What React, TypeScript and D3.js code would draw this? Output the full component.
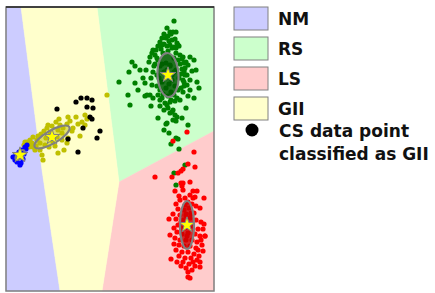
import React from "react";
import * as d3 from "d3";

// class regions (decision areas), in plot units
const regionNM: [number, number][] = [[0, 284], [15, 284], [36, 121], [54, 0], [0, 0]];
const regionGII: [number, number][] = [[15, 284], [91, 284], [113, 109], [96, 0], [54, 0], [36, 121]];
const regionRS: [number, number][] = [[91, 284], [208, 284], [208, 160], [113, 109]];
const regionLS: [number, number][] = [[113, 109], [208, 160], [208, 0], [96, 0]];

// data points per class
const pointsRS: [number, number][] = [
  [168, 270], [161, 263], [164, 259], [167, 259], [170, 259], [165, 257], [158, 257], [162, 255],
  [156, 253], [160, 253], [163, 250], [166, 251], [169, 252], [154, 249], [158, 247], [152, 245],
  [161, 245], [171, 248], [173, 245], [170, 243], [147, 241], [146, 238], [149, 236], [144, 234],
  [150, 241], [155, 242], [174, 236], [177, 234], [170, 238], [180, 229], [184, 234], [188, 231],
  [182, 226], [126, 229], [129, 225], [123, 219], [113, 209], [129, 208], [124, 186], [139, 208],
  [146, 206], [141, 196], [144, 196], [139, 195], [147, 193], [145, 185], [186, 220], [181, 216],
  [184, 211], [179, 216], [191, 209], [188, 193], [182, 195], [184, 201], [154, 191], [159, 188],
  [161, 186], [164, 189], [169, 190], [174, 191], [177, 199], [162, 183], [166, 179], [164, 178],
  [167, 181], [169, 176], [171, 174], [167, 171], [161, 168], [182, 166], [163, 158], [170, 170],
  [160, 167], [170, 153], [172, 152], [165, 147], [173, 142], [179, 126], [168, 118], [170, 106],
  [152, 231], [149, 227], [151, 233], [154, 225], [156, 227], [160, 228], [164, 226], [168, 233],
  [172, 231], [174, 227], [176, 222], [178, 219], [151, 216], [153, 213], [156, 209], [158, 219],
  [161, 221], [164, 225], [166, 216], [168, 219], [170, 221], [173, 213], [175, 217], [178, 209],
  [151, 205], [154, 201], [157, 197], [160, 203], [163, 207], [166, 211], [169, 205], [172, 201],
  [175, 203], [152, 196], [156, 193], [162, 195], [165, 199], [168, 196], [171, 193], [154, 185],
  [158, 181], [165, 191], [148, 225], [147, 219], [145, 213], [178, 221], [177, 211], [178, 205],
  [179, 223], [143, 229], [140, 221], [181, 206], [156, 246], [164, 246], [168, 244], [162, 240],
  [172, 246], [166, 243], [157, 238], [176, 232], [178, 228], [134, 221], [137, 213], [132, 201],
  [122, 196], [190, 221], [193, 203], [180, 183], [176, 173], [152, 173], [158, 161]
];
const pointsLS: [number, number][] = [
  [181, 159], [167, 150], [188, 139], [182, 127], [189, 124], [177, 122], [175, 120], [172, 118],
  [149, 114], [166, 114], [175, 108], [177, 108], [176, 105], [184, 109], [169, 100], [177, 101],
  [187, 100], [191, 100], [184, 96], [189, 94], [198, 93], [174, 91], [179, 93], [182, 89],
  [170, 87], [186, 87], [190, 85], [194, 83], [172, 82], [178, 81], [183, 83], [167, 77],
  [174, 76], [180, 75], [185, 77], [188, 78], [170, 72], [163, 72], [177, 71], [184, 73],
  [190, 71], [195, 69], [172, 66], [168, 63], [179, 63], [186, 65], [192, 62], [197, 62],
  [171, 59], [176, 57], [182, 58], [189, 57], [194, 55], [199, 55], [169, 53], [174, 51],
  [180, 51], [186, 51], [191, 49], [173, 46], [178, 45], [184, 45], [190, 43], [196, 46],
  [170, 41], [176, 39], [182, 39], [188, 37], [197, 40], [173, 35], [179, 33], [185, 33],
  [191, 31], [165, 32], [177, 29], [183, 27], [189, 25], [194, 24], [180, 23], [186, 21],
  [182, 19], [184, 13], [182, 14], [175, 25], [171, 29], [187, 29], [193, 35], [168, 47],
  [195, 51], [180, 77], [185, 78], [175, 69], [181, 55], [176, 63], [192, 41], [179, 86],
  [173, 95], [187, 93], [164, 56], [198, 67], [194, 29], [199, 55]
];
const pointsGII: [number, number][] = [
  [101, 196], [53, 172], [62, 174], [70, 174], [79, 176], [81, 172], [79, 166], [74, 155],
  [67, 163], [61, 167], [57, 163], [42, 166], [41, 163], [46, 165], [50, 169], [54, 166],
  [64, 170], [72, 167], [76, 169], [38, 160], [35, 157], [27, 154], [31, 151], [26, 148],
  [34, 148], [61, 148], [62, 153], [56, 158], [52, 161], [66, 160], [24, 151], [21, 149],
  [19, 149], [24, 147], [27, 144], [30, 145], [34, 141], [36, 136], [37, 131], [52, 138],
  [47, 149], [43, 144], [39, 146], [49, 145], [56, 151], [44, 159], [40, 153], [32, 155],
  [23, 144], [29, 141], [18, 146], [58, 141], [51, 154]
];
const pointsNM: [number, number][] = [
  [19, 144], [21, 146], [10, 136], [12, 133], [15, 128], [17, 132], [9, 131], [16, 141],
  [13, 139], [18, 137], [11, 129], [14, 126], [7, 134], [20, 142], [15, 135]
];
// CS data points classified as GII
const pointsCS: [number, number][] = [
  [75, 193], [81, 193], [86, 191], [70, 189], [51, 182], [81, 184], [87, 183], [84, 174],
  [86, 172], [77, 163], [94, 160], [91, 153], [62, 152], [72, 139]
];

// class centres and covariance ellipses: [cx, cy, rx, ry, angle]
const classes = ["NM", "RS", "LS", "GII"];
const centres: [number, number][] = [[14, 136], [162, 216], [181, 66], [46, 154]];
const ellipses: [number, number, number, number, number][] = [
  [14, 136, 6, 3, -50], [162, 216, 10.5, 22, -3], [181, 66, 7, 24, 0], [46, 154, 20, 6.5, -30]
];

const regionColors = ["#ccccff", "#ccffcc", "#ffcccc", "#ffffcc"];
const pointColors = ["#0000ff", "#008000", "#ff0000", "#bfbf00"];
const ellipseFill = ["#0000cc", "#005a00", "#cc0000", "#bfbf00"];
const ellipseAlpha = [0.6, 0.85, 0.8, 0.5];

const W = 435;
const H = 293;
const frame = { left: 6, top: 7, right: 214, bottom: 291 };

export default function App() {
  const x = d3.scaleLinear().domain([0, 208]).range([frame.left, frame.right]);
  const y = d3.scaleLinear().domain([0, 284]).range([frame.bottom, frame.top]);
  const poly = (pts: [number, number][]) => d3.line()(pts.map((p) => [x(p[0]), y(p[1])] as [number, number])) + "Z";
  const star = d3.symbol(d3.symbolStar, 75)();
  const regions = [regionNM, regionRS, regionLS, regionGII];
  const pointSets = [pointsRS, pointsLS, pointsGII, pointsNM];
  const setColors = [pointColors[1], pointColors[2], pointColors[3], pointColors[0]];
  const font = "'DejaVu Sans', sans-serif";

  return (
    <svg width={W} height={H} style={{ position: "absolute", left: 0, top: 0 }}>
      <rect width={W} height={H} fill="#fff" />
      {regions.map((r, i) => (
        <path key={"r" + i} d={poly(r)} fill={regionColors[i]} stroke={regionColors[i]} strokeWidth={0.5} />
      ))}
      {pointSets.map((set, i) =>
        set.map((p, j) => (
          <circle key={"p" + i + "-" + j} cx={x(p[0])} cy={y(p[1])} r={2.6} fill={setColors[i]} />
        ))
      )}
      {pointsCS.map((p, j) => (
        <circle key={"cs" + j} cx={x(p[0])} cy={y(p[1])} r={2.6} fill="#000" />
      ))}
      {ellipses.map((e, i) => (
        <ellipse
          key={"e" + i}
          cx={0}
          cy={0}
          rx={x(e[2]) - x(0)}
          ry={y(0) - y(e[3])}
          transform={`translate(${x(e[0])},${y(e[1])}) rotate(${e[4]})`}
          fill={ellipseFill[i]}
          fillOpacity={ellipseAlpha[i]}
          stroke="#808080"
          strokeWidth={2.2}
        />
      ))}
      {centres.map((c, i) => (
        <path
          key={"s" + i}
          d={star}
          transform={`translate(${x(c[0])},${y(c[1])})`}
          fill="#ffff00"
          stroke="#808080"
          strokeWidth={1}
        />
      ))}
      <rect
        x={frame.left}
        y={frame.top}
        width={frame.right - frame.left}
        height={frame.bottom - frame.top}
        fill="none"
        stroke="#7f7f7f"
        strokeWidth={1.5}
      />
      <line x1={frame.left} x2={frame.right} y1={frame.top} y2={frame.top} stroke="#222" strokeWidth={1.5} />
      {classes.map((c, i) => (
        <g key={"l" + i} transform={`translate(234,${7 + i * 30})`}>
          <rect width={34} height={23} fill={regionColors[i]} stroke="#808080" strokeWidth={1} />
          <text x={44} y={18} fontFamily={font} fontWeight="bold" fontSize={17} fill="#111">
            {c}
          </text>
        </g>
      ))}
      <circle cx={252} cy={130} r={6.5} fill="#000" />
      <text x={279} y={137} fontFamily={font} fontWeight="bold" fontSize={17} fill="#111">
        CS data point
      </text>
      <text x={279} y={160} fontFamily={font} fontWeight="bold" fontSize={17} fill="#111">
        classified as GII
      </text>
    </svg>
  );
}
